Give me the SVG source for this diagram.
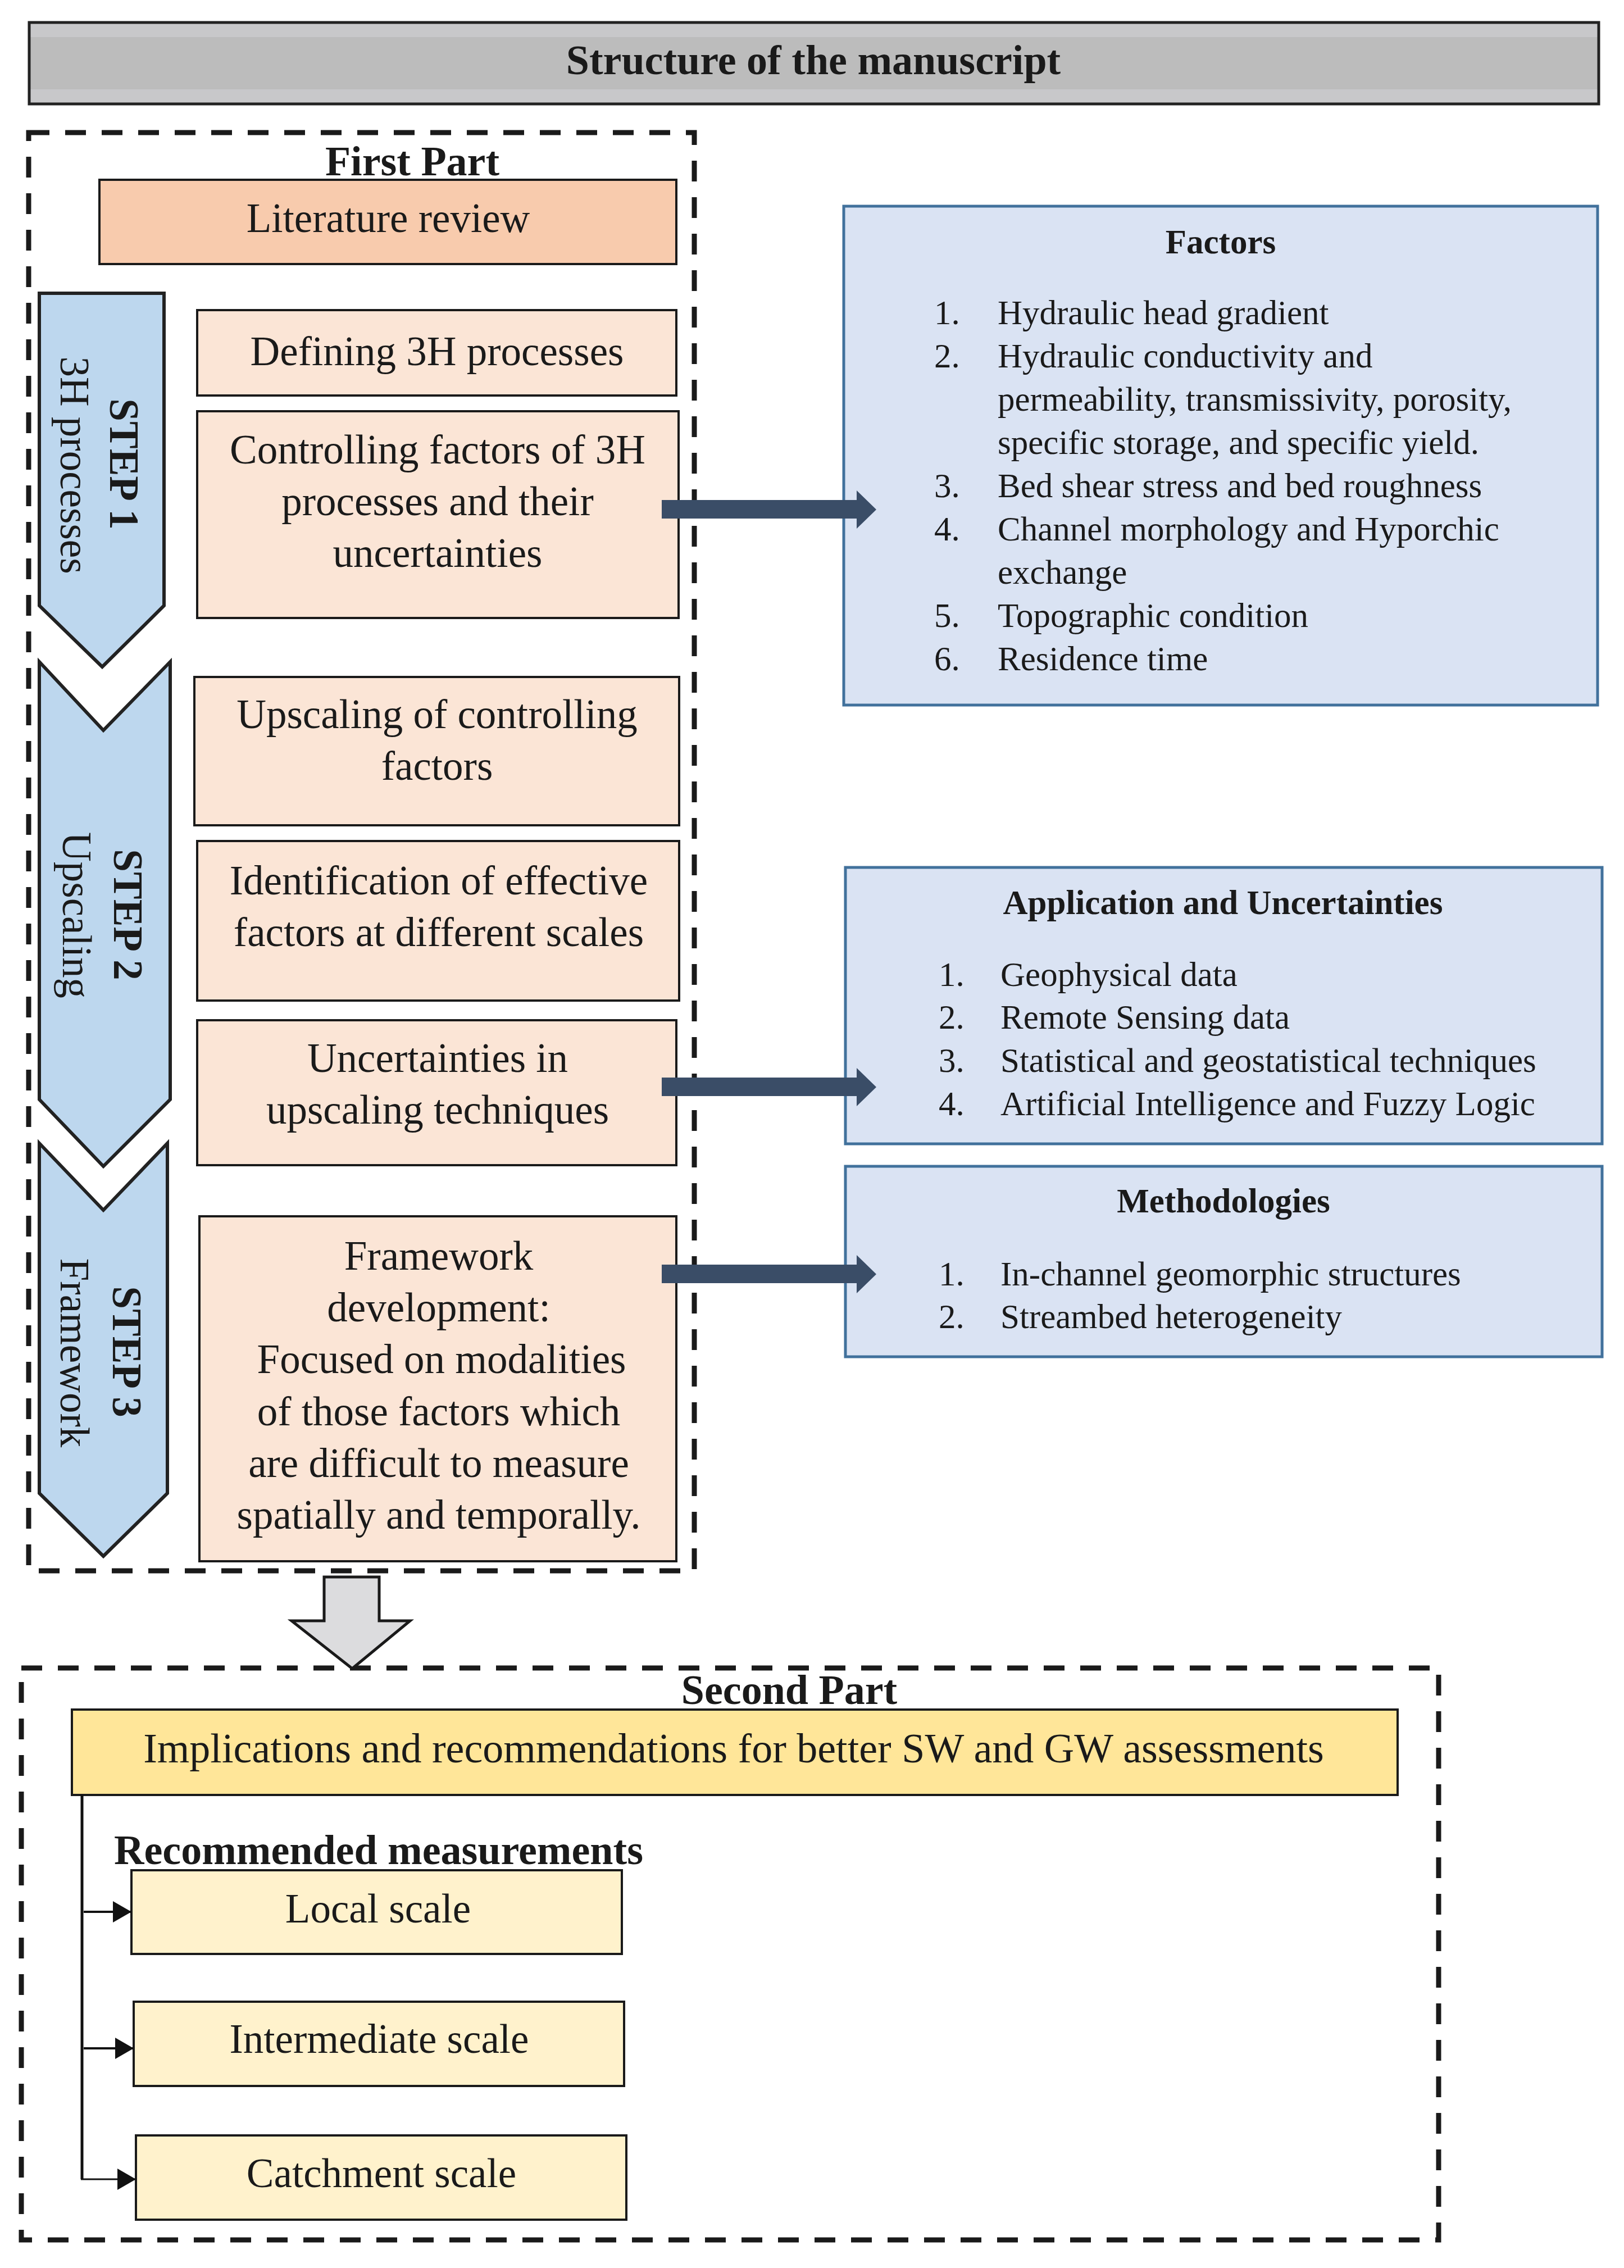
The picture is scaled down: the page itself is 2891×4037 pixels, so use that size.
<svg xmlns="http://www.w3.org/2000/svg" width="2891" height="4037" viewBox="0 0 2891 4037">
<defs>
<linearGradient id="gTitle" x1="0" y1="0" x2="0" y2="1">
<stop offset="0" stop-color="#c8c8ca"/><stop offset="0.18" stop-color="#c8c8ca"/><stop offset="0.18" stop-color="#bcbcbc"/><stop offset="0.82" stop-color="#bcbcbc"/><stop offset="0.82" stop-color="#c8c8ca"/><stop offset="1" stop-color="#c8c8ca"/>
</linearGradient>
<marker id="ah" viewBox="0 0 10 10" refX="10" refY="5" markerWidth="33" markerHeight="38" markerUnits="userSpaceOnUse" orient="auto" preserveAspectRatio="none">
<path d="M0,0 L10,5 L0,10 Z" fill="#111"/>
</marker>
</defs>
<style>
text{font-family:"Liberation Serif","Times New Roman",serif;fill:#1a1a1a}
.t73{font-size:73px}
.t74{font-size:74px}
.b74{font-size:74px;font-weight:bold}
.b73{font-size:73px;font-weight:bold}
.l60{font-size:61px}
.lb61{font-size:61px;font-weight:bold}
.mid{text-anchor:middle}
.peach{fill:#fbe5d6;stroke:#1a1a1a;stroke-width:4}
.lit{fill:#f8cbad;stroke:#1a1a1a;stroke-width:4}
.blue{fill:#dae3f3;stroke:#41719c;stroke-width:5}
.step{fill:#bdd7ee;stroke:#222;stroke-width:6;stroke-linejoin:miter}
.dash{fill:none;stroke:#1a1a1a;stroke-width:9;stroke-dasharray:37 28}
.yel{fill:#ffe699;stroke:#1a1a1a;stroke-width:4}
.cream{fill:#fff2cc;stroke:#1a1a1a;stroke-width:4}
.bigarrow{fill:#3a4d67}
</style>
<rect width="2891" height="4037" fill="#ffffff"/>

<g id="title">
<rect x="52" y="40" width="2794" height="145" fill="url(#gTitle)" stroke="#222" stroke-width="5"/>
<text class="b74 mid" x="1448" y="132">Structure of the manuscript</text>
</g>

<g id="first-part">
<rect class="dash" x="51" y="236" width="1185" height="2560"/>
<text class="b74 mid" x="734" y="312">First Part</text>
</g>

<g id="literature-review">
<rect class="lit" x="177" y="320" width="1027" height="150"/>
<text class="t73 mid" x="691" y="413">Literature review</text>
</g>

<g id="step1">
<polygon class="step" points="70,522 292,522 292,1078 182,1187 70,1078"/>
<text class="b73 mid" transform="translate(196,826) rotate(90)">STEP 1</text>
<text class="t73 mid" transform="translate(108,828) rotate(90)">3H processes</text>
</g>

<g id="step2">
<polygon class="step" points="70,1178 184,1300 303,1178 303,1957 184,2076 70,1957"/>
<text class="b73 mid" transform="translate(203,1628) rotate(90)">STEP 2</text>
<text class="t73 mid" transform="translate(112,1629) rotate(90)">Upscaling</text>
</g>

<g id="step3">
<polygon class="step" points="70,2035 184,2154 298,2035 298,2658 184,2770 70,2658"/>
<text class="b73 mid" transform="translate(201,2406) rotate(90)">STEP 3</text>
<text class="t73 mid" transform="translate(108,2408) rotate(90)">Framework</text>
</g>

<g id="defining">
<rect class="peach" x="351" y="552" width="853" height="152"/>
<text class="t73 mid" x="778" y="650">Defining 3H processes</text>
</g>

<g id="controlling">
<rect class="peach" x="351" y="732" width="857" height="368"/>
<text class="t73 mid" x="779" y="825">Controlling factors of 3H</text>
<text class="t73 mid" x="779" y="917">processes and their</text>
<text class="t73 mid" x="779" y="1009">uncertainties</text>
</g>

<g id="upscaling">
<rect class="peach" x="346" y="1205" width="863" height="264"/>
<text class="t73 mid" x="778" y="1296">Upscaling of controlling</text>
<text class="t73 mid" x="778" y="1388">factors</text>
</g>

<g id="identification">
<rect class="peach" x="351" y="1497" width="858" height="284"/>
<text class="t73 mid" x="781" y="1592">Identification of effective</text>
<text class="t73 mid" x="781" y="1684">factors at different scales</text>
</g>

<g id="uncertainties">
<rect class="peach" x="351" y="1816" width="853" height="258"/>
<text class="t73 mid" x="779" y="1908">Uncertainties in</text>
<text class="t73 mid" x="779" y="2000">upscaling techniques</text>
</g>

<g id="framework">
<rect class="peach" x="355" y="2165" width="849" height="614"/>
<text class="t73 mid" x="781" y="2260">Framework</text>
<text class="t73 mid" x="781" y="2352">development:</text>
<text class="t73 mid" x="786" y="2444">Focused on modalities</text>
<text class="t73 mid" x="781" y="2537">of those factors which</text>
<text class="t73 mid" x="781" y="2629">are difficult to measure</text>
<text class="t73 mid" x="781" y="2721">spatially and temporally.</text>
</g>

<g id="factors">
<rect class="blue" x="1502" y="367" width="1342" height="888"/>
<text class="lb61 mid" x="2173" y="451">Factors</text>
<text class="l60" x="1663" y="577">1.</text><text class="l60" x="1776" y="577">Hydraulic head gradient</text>
<text class="l60" x="1663" y="654">2.</text><text class="l60" x="1776" y="654">Hydraulic conductivity and</text>
<text class="l60" x="1776" y="731">permeability, transmissivity, porosity,</text>
<text class="l60" x="1776" y="808">specific storage, and specific yield.</text>
<text class="l60" x="1663" y="885">3.</text><text class="l60" x="1776" y="885">Bed shear stress and bed roughness</text>
<text class="l60" x="1663" y="962">4.</text><text class="l60" x="1776" y="962">Channel morphology and Hyporchic</text>
<text class="l60" x="1776" y="1039">exchange</text>
<text class="l60" x="1663" y="1116">5.</text><text class="l60" x="1776" y="1116">Topographic condition</text>
<text class="l60" x="1663" y="1193">6.</text><text class="l60" x="1776" y="1193">Residence time</text>
</g>

<g id="application">
<rect class="blue" x="1505" y="1544" width="1347" height="492"/>
<text class="lb61 mid" x="2177" y="1627">Application and Uncertainties</text>
<text class="l60" x="1671" y="1755">1.</text><text class="l60" x="1781" y="1755">Geophysical data</text>
<text class="l60" x="1671" y="1831">2.</text><text class="l60" x="1781" y="1831">Remote Sensing data</text>
<text class="l60" x="1671" y="1908">3.</text><text class="l60" x="1781" y="1908">Statistical and geostatistical techniques</text>
<text class="l60" x="1671" y="1985">4.</text><text class="l60" x="1781" y="1985">Artificial Intelligence and Fuzzy Logic</text>
</g>

<g id="methodologies">
<rect class="blue" x="1505" y="2076" width="1347" height="339"/>
<text class="lb61 mid" x="2178" y="2158">Methodologies</text>
<text class="l60" x="1671" y="2288">1.</text><text class="l60" x="1781" y="2288">In-channel geomorphic structures</text>
<text class="l60" x="1671" y="2364">2.</text><text class="l60" x="1781" y="2364">Streambed heterogeneity</text>
</g>

<g id="second-part">
<rect class="dash" x="38" y="2969" width="2523" height="1018"/>
<text class="b74 mid" x="1405" y="3033">Second Part</text>
</g>

<g id="implications">
<rect class="yel" x="128" y="3043" width="2360" height="152"/>
<text class="t74 mid" x="1306" y="3137">Implications and recommendations for better SW and GW assessments</text>
</g>

<g id="recommended-label">
<text class="b74" x="203" y="3318">Recommended measurements</text>
</g>

<g id="local-scale">
<rect class="cream" x="234" y="3329" width="873" height="149"/>
<text class="t73 mid" x="673" y="3422">Local scale</text>
</g>

<g id="intermediate-scale">
<rect class="cream" x="238" y="3563" width="873" height="150"/>
<text class="t73 mid" x="675" y="3654">Intermediate scale</text>
</g>

<g id="catchment-scale">
<rect class="cream" x="242" y="3801" width="873" height="150"/>
<text class="t73 mid" x="679" y="3893">Catchment scale</text>
</g>

<g id="connectors">
<polygon class="bigarrow" points="1178,890 1525,890 1525,873 1560,907 1525,941 1525,923 1178,923"/>
<polygon class="bigarrow" points="1178,1918 1525,1918 1525,1901 1560,1935 1525,1969 1525,1951 1178,1951"/>
<polygon class="bigarrow" points="1178,2251 1525,2251 1525,2234 1560,2268 1525,2302 1525,2284 1178,2284"/>
<polygon points="577,2807 675,2807 675,2885 730,2885 627,2970 519,2885 577,2885" fill="#dcdcde" stroke="#1a1a1a" stroke-width="5" stroke-linejoin="miter"/>
<line x1="146" y1="3195" x2="146" y2="3879" stroke="#111" stroke-width="5"/>
<line x1="149" y1="3403" x2="234" y2="3403" stroke="#111" stroke-width="4" marker-end="url(#ah)"/>
<line x1="149" y1="3646" x2="238" y2="3646" stroke="#111" stroke-width="4" marker-end="url(#ah)"/>
<line x1="144" y1="3879" x2="242" y2="3879" stroke="#111" stroke-width="3" marker-end="url(#ah)"/>
</g>
</svg>
